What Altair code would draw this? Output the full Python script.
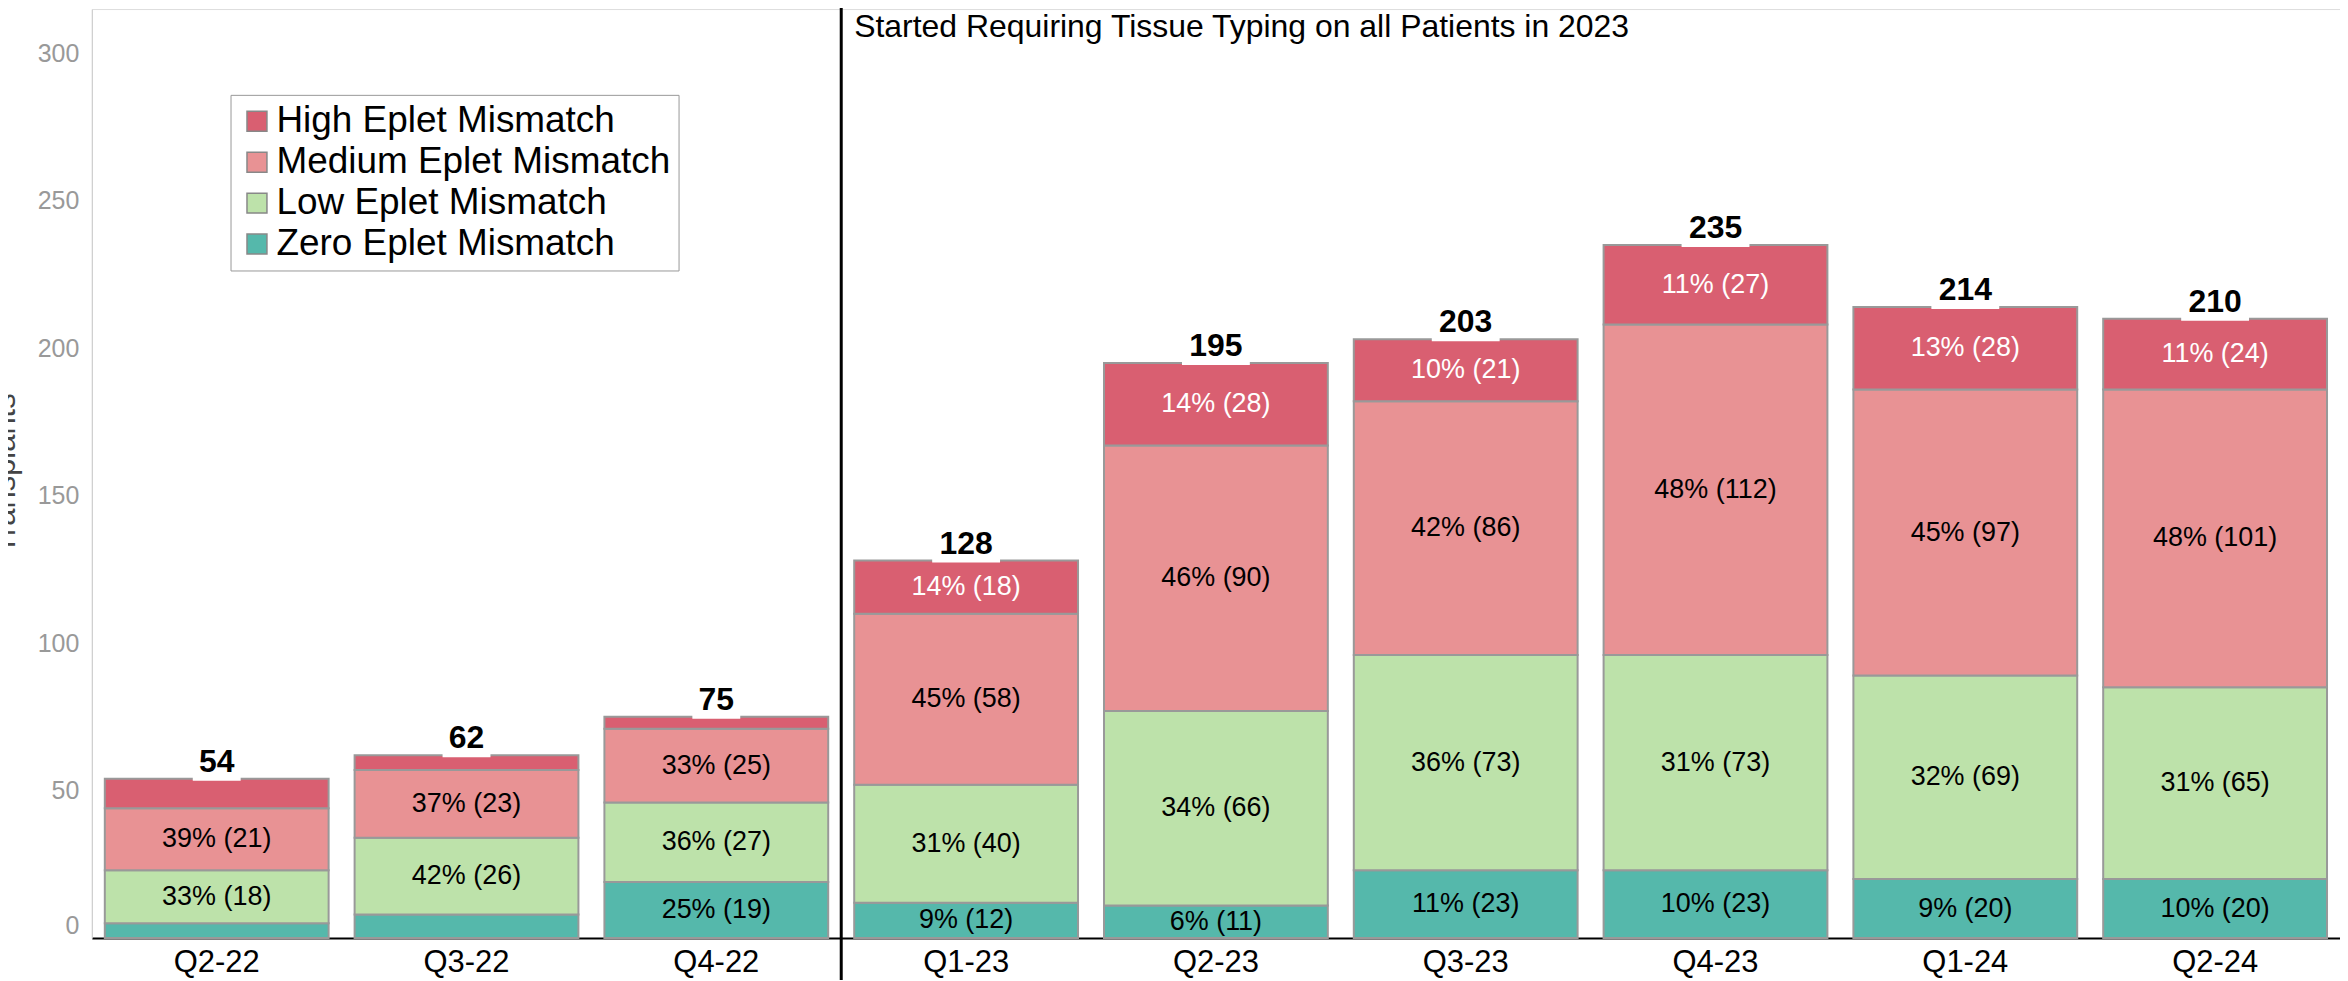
import altair as alt
import pandas as pd

quarters = ["Q2-22", "Q3-22", "Q4-22", "Q1-23", "Q2-23", "Q3-23", "Q4-23", "Q1-24", "Q2-24"]
categories = ["High Eplet Mismatch", "Medium Eplet Mismatch", "Low Eplet Mismatch", "Zero Eplet Mismatch"]
high = [10, 5, 4, 18, 28, 21, 27, 28, 24]
medium = [21, 23, 25, 58, 90, 86, 112, 97, 101]
low = [18, 26, 27, 40, 66, 73, 73, 69, 65]
zero = [5, 8, 19, 12, 11, 23, 23, 20, 20]
colors = ["#D95F71", "#E89294", "#BDE2AA", "#55B8AB"]
y_ticks = [0, 50, 100, 150, 200, 250, 300]
annotation = "Started Requiring Tissue Typing on all Patients in 2023"
divider_quarter = "Q1-23"
label_min = 11
FONT = "Liberation Sans"

rows = []
totals = []
for i, q in enumerate(quarters):
    total = high[i] + medium[i] + low[i] + zero[i]
    totals.append(total)
    start = 0
    for order, (cat, vals) in enumerate([(categories[3], zero), (categories[2], low),
                                          (categories[1], medium), (categories[0], high)]):
        n = vals[i]
        rows.append(dict(quarter=q, category=cat, n=n, total=total, y0=start, y1=start + n, order=order))
        start += n
df = pd.DataFrame(rows)
tot_df = pd.DataFrame({"quarter": quarters, "total": totals})
div_df = pd.DataFrame({"quarter": [divider_quarter], "text": [annotation]})

xscale = alt.Scale(domain=quarters, paddingInner=0.104, paddingOuter=0.052)
yscale = alt.Scale(domain=[0, 315], nice=False)

x_enc = alt.X("quarter:N", sort=quarters, scale=xscale,
              axis=alt.Axis(title=None, labelAngle=0, labelFontSize=31, labelColor="black",
                            labelFont=FONT, ticks=False, domainColor="black", domainWidth=2,
                            labelPadding=10, grid=False))

bars = alt.Chart(df).mark_bar(stroke="#999999", strokeWidth=2).encode(
    x=x_enc,
    y=alt.Y("y0:Q", scale=yscale,
            axis=alt.Axis(values=y_ticks, title="Transplants", grid=False, ticks=False,
                          labelFontSize=25, labelColor="#999999", labelFont=FONT,
                          labelPadding=13, labelFlush=True, domainColor="#cccccc", domainWidth=1,
                          titleFontSize=31, titleColor="#444444", titleFontWeight="normal",
                          titleFont=FONT, titleX=-77, titleY=465, titleAngle=270,
                          titleBaseline="alphabetic", titleAlign="center")),
    y2="y1:Q",
    color=alt.Color("category:N", scale=alt.Scale(domain=categories, range=colors),
                    legend=alt.Legend(title=None, orient="none", legendX=139, legendY=86,
                                      direction="vertical", labelFontSize=37, labelFont=FONT,
                                      labelColor="black", symbolType="square", symbolSize=400,
                                      symbolStrokeWidth=1.5, symbolStrokeColor="#888888",
                                      fillColor="white", strokeColor="#999999", padding=8,
                                      rowPadding=3, labelOffset=1, labelLimit=0)),
    order=alt.Order("order:Q"),
)

seg_labels = alt.Chart(df).transform_filter(
    alt.datum.n >= label_min
).transform_calculate(
    mid="(datum.y0 + datum.y1) / 2",
    label="format(datum.n / datum.total, '.0%') + ' (' + datum.n + ')'",
).mark_text(fontSize=27, font=FONT, baseline="middle").encode(
    x=alt.X("quarter:N", sort=quarters, scale=xscale),
    y=alt.Y("mid:Q", scale=yscale),
    text="label:N",
    color=alt.condition(alt.datum.category == categories[0], alt.value("white"), alt.value("black")),
)

tot_gap = alt.Chart(tot_df).transform_calculate(
    tw="length(toString(datum.total)) * 20 + 8"
).mark_tick(color="white", thickness=4, orient="horizontal", opacity=1).encode(
    x=alt.X("quarter:N", sort=quarters, scale=xscale),
    y=alt.Y("total:Q", scale=yscale),
    size=alt.Size("tw:Q", scale=None, legend=None),
)

tot_labels = alt.Chart(tot_df).mark_text(fontSize=32, font=FONT, fontWeight="bold",
                                         baseline="alphabetic", dy=-7, color="black").encode(
    x=alt.X("quarter:N", sort=quarters, scale=xscale),
    y=alt.Y("total:Q", scale=yscale),
    text="total:Q",
)

divider = alt.Chart(div_df).mark_rule(color="black", strokeWidth=3, xOffset=-13).encode(
    x=alt.X("quarter:N", sort=quarters, scale=xscale, bandPosition=0),
    y=alt.value(-1),
    y2=alt.value(975),
)

ann = alt.Chart(div_df).mark_text(align="left", baseline="alphabetic", fontSize=32,
                                  font=FONT, color="black").encode(
    x=alt.X("quarter:N", sort=quarters, scale=xscale, bandPosition=0),
    y=alt.value(28),
    text="text:N",
)

chart = alt.layer(bars, seg_labels, tot_gap, tot_labels, divider, ann).properties(
    width=2253, height=931,
    autosize=alt.AutoSizeParams(type="none"),
    padding={"left": 84, "top": 0, "right": 0, "bottom": 41},
    background="white",
).configure_view(stroke=None).configure(font=FONT)

chart.save("out.html", embed_options={"renderer": "svg", "actions": False})
